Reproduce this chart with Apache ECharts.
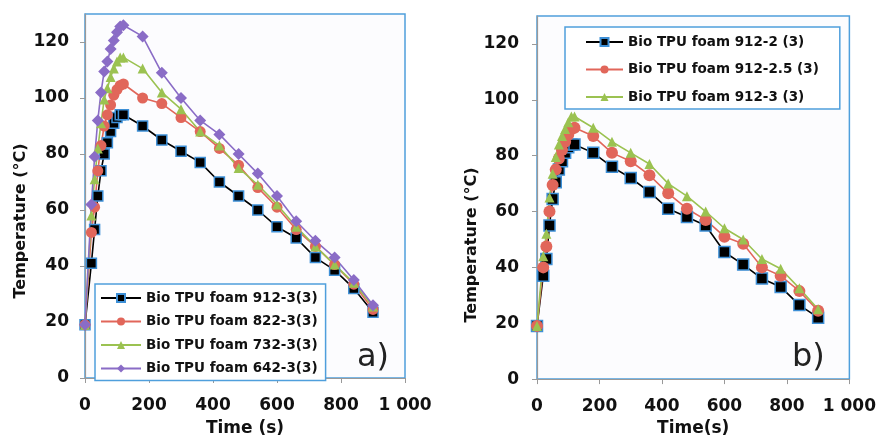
<!DOCTYPE html>
<html>
<head>
<meta charset="utf-8">
<script src="https://cdn.jsdelivr.net/npm/echarts@6/dist/echarts.min.js"></script>
<style>
  html, body { margin: 0; padding: 0; background: #fff; }
  #chart { width: 879px; height: 442px; }
</style>
</head>
<body>
<div id="chart"></div>
<script>
// sampling times (s), same for every curve
const times = [0, 20, 30, 40, 50, 60, 70, 80, 90, 100, 110, 120, 180, 240, 300, 360, 420, 480, 540, 600, 660, 720, 780, 840, 900];

// a) left panel
const foam912_3 = [19, 41, 53, 65, 74, 80, 84, 88, 91, 93, 94, 94, 90, 85, 81, 77, 70, 65, 60, 54, 50, 43, 38.5, 32, 23.5];
const foam822_3 = [19, 52, 61, 74, 83, 90, 94, 97.5, 101, 103, 104.5, 105, 100, 98, 93, 88, 82, 76, 68, 61, 53, 47, 40.5, 33.5, 24.5];
const foam732_3 = [19, 58, 71, 82, 91, 99.5, 103.5, 107.5, 110.5, 113, 114.5, 114.5, 110.5, 102, 96, 88, 83, 75, 69, 62, 54, 47, 40.5, 34, 25.5];
const foam642_3 = [19, 62, 79, 92, 102, 109.5, 113, 117.5, 120.5, 123.5, 125.5, 126, 122, 109, 100, 92, 87, 80, 73, 65, 56, 49, 43, 35, 26];

// b) right panel
const foam912_2 = [19, 37, 43, 55, 64.5, 70.5, 75, 78, 81, 83, 84, 84, 81, 76, 72, 67, 61, 58, 55, 45.5, 41, 36, 33, 26.5, 22];
const foam912_25 = [19, 40, 47.5, 60, 69.5, 75, 79, 82, 85, 87.5, 89.5, 90, 87, 81, 78, 73, 66.5, 61, 57, 51, 48.5, 40, 37, 31.5, 24.5];
const foam912_3b = [19, 44, 52, 65, 73.5, 79.5, 84, 87, 89.5, 92, 94, 94, 90, 85, 81, 77, 70, 65.5, 60, 54, 50, 43, 39.5, 32.5, 25];

const namesA = ["Bio TPU foam 912-3(3)", "Bio TPU foam 822-3(3)", "Bio TPU foam 732-3(3)", "Bio TPU foam 642-3(3)"];
const namesB = ["Bio TPU foam 912-2 (3)", "Bio TPU foam 912-2.5 (3)", "Bio TPU foam 912-3 (3)"];

const yTicks = [0, 20, 40, 60, 80, 100, 120];

const FONT = "DejaVu Sans";
const BLUE = "#4f9fdc";
const RED = "#e1665a";
const GREEN = "#9bc251";
const PURPLE = "#8a6cc6";

function pairs(values) {
  return times.map(function (t, i) { return [t, values[i]]; });
}

function curve(name, values, idx, symbol, size, color, lineColor, border) {
  return {
    name: name,
    type: "line",
    xAxisIndex: idx,
    yAxisIndex: idx,
    data: pairs(values),
    symbol: symbol,
    symbolSize: size,
    showAllSymbol: true,
    lineStyle: { color: lineColor, width: 1.6 },
    itemStyle: { color: color, borderColor: border || color, borderWidth: border ? 1.5 : 0 },
    emphasis: { disabled: true },
    animation: false
  };
}

function xAxis(idx, gap, title) {
  return {
    type: "value",
    gridIndex: idx,
    min: 0,
    max: 1000,
    interval: 200,
    name: title,
    nameLocation: "middle",
    nameGap: gap,
    nameTextStyle: { fontFamily: FONT, fontWeight: "bold", fontSize: 17, color: "#111" },
    axisLine: { lineStyle: { color: "#999", width: 1.2 } },
    axisTick: { show: true, length: 5, lineStyle: { color: "#999" } },
    axisLabel: {
      margin: 19,
      fontFamily: FONT,
      fontWeight: "bold",
      fontSize: 17,
      color: "#111",
      formatter: function (v) { return v === 1000 ? "1 000" : String(v); }
    },
    splitLine: { show: false }
  };
}

function yAxis(idx, margin) {
  return {
    type: "value",
    gridIndex: idx,
    min: 0,
    max: 130,
    interval: 20,
    axisLine: { show: true, lineStyle: { color: "#999", width: 1.2 } },
    axisTick: { show: true, length: 5, customValues: yTicks, lineStyle: { color: "#999" } },
    axisLabel: {
      margin: margin,
      customValues: yTicks,
      fontFamily: FONT,
      fontWeight: "bold",
      fontSize: 17,
      color: "#111"
    },
    splitLine: { show: false }
  };
}

function legend(names, left, top, padding, gap, iconW) {
  return {
    data: names,
    orient: "vertical",
    left: left,
    top: top,
    padding: padding,
    itemGap: gap,
    itemWidth: iconW,
    itemHeight: 10,
    borderColor: BLUE,
    borderWidth: 1.5,
    backgroundColor: "#fff",
    selectedMode: false,
    textStyle: { fontFamily: FONT, fontWeight: "bold", fontSize: 13.5, color: "#111" }
  };
}

const chart = echarts.init(document.getElementById("chart"));

chart.setOption({
  backgroundColor: "#fff",
  animation: false,
  grid: [
    { left: 85, top: 14, width: 320, height: 370, show: true, borderColor: BLUE, borderWidth: 1.5, backgroundColor: "#fcfcfe" },
    { left: 537, top: 16, width: 315, height: 370, show: true, borderColor: BLUE, borderWidth: 1.5, backgroundColor: "#fcfcfe" }
  ],
  xAxis: [xAxis(0, 42, "Time (s)"), xAxis(1, 33, "Time(s)")],
  yAxis: [yAxis(0, 16), yAxis(1, 18)],
  legend: [
    legend(namesA, 95, 284, [7, 8, 5, 5], 9.5, 40),
    legend(namesB, 565, 27, [8, 21, 5, 20], 13.5, 37)
  ],
  graphic: [
    { type: "text", x: 20.5, y: 221, rotation: Math.PI / 2,
      style: { text: "Temperature (°C)", font: "bold 16px " + FONT, fill: "#111", align: "center", verticalAlign: "middle" } },
    { type: "text", x: 472, y: 245, rotation: Math.PI / 2,
      style: { text: "Temperature (°C)", font: "bold 16px " + FONT, fill: "#111", align: "center", verticalAlign: "middle" } },
    { type: "text", x: 357, y: 358,
      style: { text: "a)", font: "32px " + FONT, fill: "#222", verticalAlign: "middle" } },
    { type: "text", x: 792, y: 358,
      style: { text: "b)", font: "32px " + FONT, fill: "#222", verticalAlign: "middle" } }
  ],
  series: [
    curve(namesA[0], foam912_3, 0, "rect", 10, "#000", "#000", "#3d8fd6"),
    curve(namesA[1], foam822_3, 0, "circle", 11, RED, RED),
    curve(namesA[2], foam732_3, 0, "triangle", 10, GREEN, GREEN),
    curve(namesA[3], foam642_3, 0, "diamond", 12, PURPLE, PURPLE),
    curve(namesB[0], foam912_2, 1, "rect", 11, "#000", "#000", "#3d8fd6"),
    curve(namesB[1], foam912_25, 1, "circle", 12, RED, RED),
    curve(namesB[2], foam912_3b, 1, "triangle", 10, GREEN, GREEN)
  ]
});
</script>
</body>
</html>
